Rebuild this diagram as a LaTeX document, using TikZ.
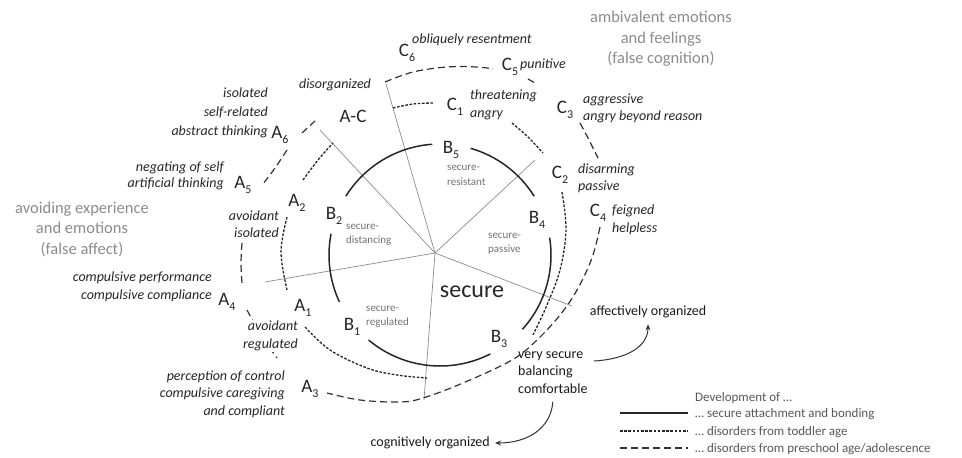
\documentclass[tikz,border=0pt]{standalone}
\usepackage{fontspec}
\setmainfont{Carlito}
\usetikzlibrary{calc,arrows.meta}
\newcommand\sbs[1]{\raisebox{-4.5pt}{\fontsize{12}{12}\selectfont #1}}
\begin{document}
\begin{tikzpicture}[x=1pt,y=-1pt,
  lbl/.style={font=\fontsize{19}{22}\selectfont, inner sep=0pt, text=black!85},
  itl/.style={font=\fontsize{14}{17.5}\selectfont\itshape, inner sep=0pt, text=black!85},
  grl/.style={font=\fontsize{16.5}{20.5}\selectfont, inner sep=0pt, text=black!45, align=center},
  sml/.style={font=\fontsize{11}{14.5}\selectfont, inner sep=0pt, text=black!55, align=left},
  reg/.style={font=\fontsize{14}{17.5}\selectfont, inner sep=0pt, text=black!90},
  leg/.style={font=\fontsize{13}{16}\selectfont, inner sep=0pt, text=black!65, anchor=west},
  radial/.style={draw=black!45, line width=0.7pt},
  solidarc/.style={draw=black!85, line width=1.5pt},
  dotarc/.style={draw=black!85, line width=1.3pt, dash pattern=on 2.6pt off 1.6pt},
  dasharc/.style={draw=black!80, line width=1.2pt, dash pattern=on 7pt off 4pt},
  arr/.style={draw=black!80, line width=1pt, -{Stealth[length=6pt,width=5pt]}},
]
\useasboundingbox (0,0) rectangle (962,458);
\fill[white] (0,0) rectangle (962,458);

% radial lines
\coordinate (O) at (435,253);
\coordinate (r1) at (320,130);
\coordinate (r2) at (386,84);
\coordinate (r3) at (535,160);
\coordinate (r4) at (572,306);
\coordinate (r5) at (424,400);
\coordinate (r6) at (265,282);
\foreach \r in {r1,r2,r3,r4,r5,r6} \draw[radial] (O) -- (\r);

% solid arcs (secure attachment)
\begin{scope}[shift={(440,255)}, x=1pt, y=1pt]
 \draw[solidarc] (148:111) arc[start angle=148, end angle=94, radius=111];
 \draw[solidarc] (74:111) arc[start angle=74, end angle=32, radius=111];
 \draw[solidarc] (9:111) arc[start angle=9, end angle=-42, radius=111];
 \draw[solidarc] (-63:111) arc[start angle=-63, end angle=-130, radius=111];
 \draw[solidarc] (205:111) arc[start angle=205, end angle=169, radius=111];
\end{scope}

% dotted arcs (toddler age)
\draw[dotarc] plot[smooth, tension=0.6] coordinates {(305,327) (330,350) (367,368) (397,375) (427,378)};
\draw[dotarc] plot[smooth, tension=0.6] coordinates {(287,290) (281,252) (287,217)};
\draw[dotarc] plot[smooth, tension=0.6] coordinates {(303,180) (318,160) (333,143)};
\draw[dotarc] plot[smooth, tension=0.6] coordinates {(393,108) (413,104) (433,103)};
\draw[dotarc] plot[smooth, tension=0.6] coordinates {(512,123) (528,137) (543,153)};
\draw[dotarc] plot[smooth, tension=0.6] coordinates {(562,192) (566,230) (560,270) (547,305) (533,335)};

% dashed arcs (preschool age)
\draw[dasharc] plot[smooth, tension=0.6] coordinates {(385,82) (413,72) (447,67) (477,67) (493,69)};
\draw[dasharc] (528,79) -- (535,83);
\draw[dasharc] plot[smooth, tension=0.6] coordinates {(580,123) (588,138) (598,158)};
\draw[dasharc] plot[smooth, tension=0.6] coordinates {(600,227) (592,258) (577,290) (560,315) (537,340) (512,360) (463,383) (423,398) (400,402) (360,400) (327,393)};
\draw[dasharc] (302,133) -- (315,121);
\draw[dasharc] plot[smooth, tension=0.6] coordinates {(287,150) (275,168) (263,184)};
\draw[dasharc] plot[smooth, tension=0.6] coordinates {(242,243) (241,263) (242,283)};
\draw[dasharc] plot[smooth, tension=0.6] coordinates {(247,310) (261,335) (277,358)};

% gray headings
\node[grl] (amb) at (661,39) {ambivalent emotions\\and feelings\\(false cognition)};
\node[grl] (avd) at (82,229) {avoiding experience\\and emotions\\(false affect)};

% C labels
\node[lbl] (C6) at (407,53) {C\sbs{6}};
\node[itl, anchor=west] (C6t) at (412,40) {obliquely resentment};
\node[lbl] (C5) at (510,67) {C\sbs{5}};
\node[itl, anchor=west] (C5t) at (520,65) {punitive};
\node[lbl] (C1) at (455,107) {C\sbs{1}};
\node[itl, anchor=west, align=left] (C1t) at (470,105) {threatening\\angry};
\node[lbl] (C3) at (565,110) {C\sbs{3}};
\node[itl, anchor=west, align=left] (C3t) at (583,108.5) {aggressive\\angry beyond reason};
\node[lbl] (C2) at (560,175) {C\sbs{2}};
\node[itl, anchor=west, align=left] (C2t) at (578,178.5) {disarming\\passive};
\node[lbl] (C4) at (598,213) {C\sbs{4}};
\node[itl, anchor=west, align=left] (C4t) at (612,220) {feigned\\helpless};

% A-C
\node[itl] (dis) at (335,85) {disorganized};
\node[lbl] (AC) at (353,116) {A-C};

% A labels
\node[lbl] (A6) at (280,135) {A\sbs{6}};
\node[itl, anchor=east, align=right, font=\fontsize{14}{19}\selectfont\itshape] (A6t) at (268,112.5) {isolated\\self-related\\abstract thinking};
\node[lbl] (A5) at (243,185) {A\sbs{5}};
\node[itl, anchor=east, align=right, font=\fontsize{14}{16.5}\selectfont\itshape] (A5t) at (224,176) {negating of self\\artificial thinking};
\node[lbl] (A2) at (297,203) {A\sbs{2}};
\node[itl, anchor=east, align=right] (A2t) at (279,224) {avoidant\\isolated};
\node[lbl] (A4) at (227,302) {A\sbs{4}};
\node[itl, anchor=east, align=right] (A4t) at (212,287) {compulsive performance\\compulsive compliance};
\node[lbl] (A1) at (303,308) {A\sbs{1}};
\node[itl, anchor=east, align=right, fill=white, inner sep=1pt] (A1t) at (299,336) {avoidant\\regulated};
\node[lbl] (A3) at (310,389) {A\sbs{3}};
\node[itl, anchor=east, align=right] (A3t) at (285,394) {perception of control\\compulsive caregiving\\and compliant};

% B labels
\node[lbl] (B2) at (334,216) {B\sbs{2}};
\node[sml, anchor=west] (B2t) at (346,235) {secure-\\distancing};
\node[lbl] (B5) at (451,150) {B\sbs{5}};
\node[sml, anchor=west] (B5t) at (447,175.5) {secure-\\resistant};
\node[lbl] (B4) at (537,220) {B\sbs{4}};
\node[sml, anchor=west] (B4t) at (488,243.5) {secure-\\passive};
\node[lbl] (B3) at (499,339) {B\sbs{3}};
\node[reg, anchor=west, align=left] (B3t) at (518,372.5) {very secure\\balancing\\comfortable};
\node[lbl] (B1) at (352,327) {B\sbs{1}};
\node[sml, anchor=west] (B1t) at (366,317) {secure-\\regulated};
\node[font=\fontsize{24}{28}\selectfont, inner sep=0pt, text=black!85] (sec) at (472,292) {secure};

% organized
\node[reg] (aff) at (648,312) {affectively organized};
\node[reg, anchor=east] (cog) at (490,443) {cognitively organized};
\coordinate (aoS) at (594,361);
\draw[arr] (aoS) .. controls (628,359) and (648,346) .. ([yshift=-6pt]aff.south);
\draw[arr] ([yshift=-8pt]B3t.south) .. controls (551,428) and (528,443) .. ([xshift=5pt]cog.east);

% legend
\node[leg] (L0) at (695,398) {Development of \ldots};
\node[leg] (L1) at (695,414) {\ldots\ secure attachment and bonding};
\node[leg] (L2) at (695,432) {\ldots\ disorders from toddler age};
\node[leg] (L3) at (695,449) {\ldots\ disorders from preschool age/adolescence};
\coordinate (l1a) at (620,413); \coordinate (l1b) at (688,413);
\coordinate (l2a) at (620,431); \coordinate (l2b) at (688,431);
\coordinate (l3a) at (620,448); \coordinate (l3b) at (688,448);
\draw[solidarc] (l1a) -- (l1b);
\draw[dotarc] (l2a) -- (l2b);
\draw[dasharc] (l3a) -- (l3b);
\end{tikzpicture}
\end{document}
